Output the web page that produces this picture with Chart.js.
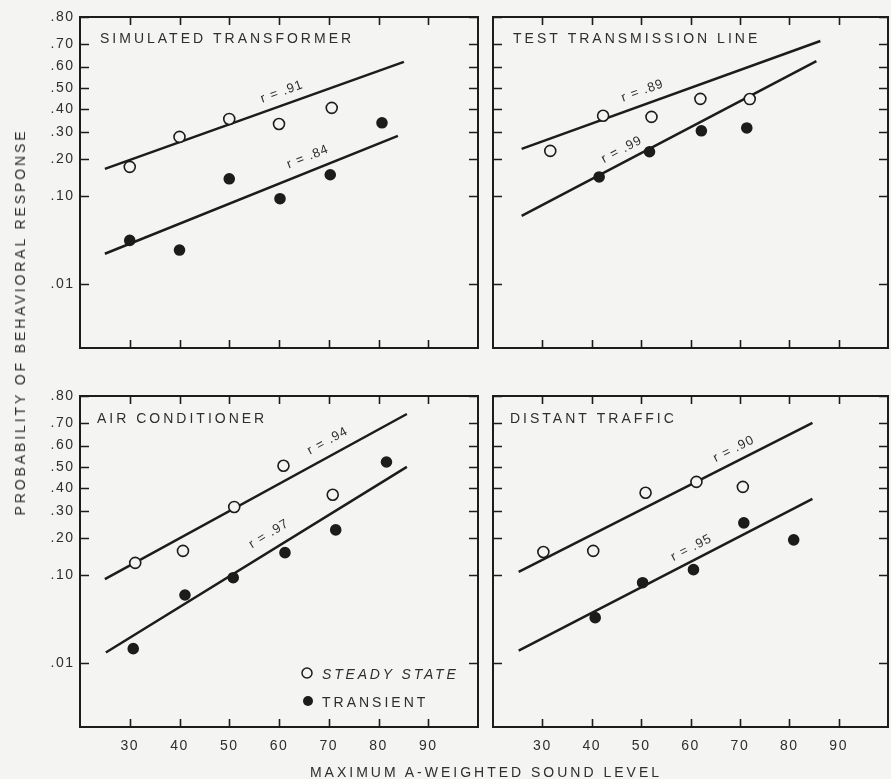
<!DOCTYPE html>
<html><head><meta charset="utf-8">
<script src="https://cdn.jsdelivr.net/npm/chart.js@4.4.1/dist/chart.umd.min.js"></script>
<style>
html,body{margin:0;padding:0;background:#f4f4f3;}
body{width:891px;height:779px;position:relative;overflow:hidden;font-family:"Liberation Sans",Arial,sans-serif;}
canvas{position:absolute;}
.ytitle{position:absolute;left:20px;top:322px;transform:translate(-50%,-50%) rotate(-90deg);white-space:nowrap;font-size:14px;letter-spacing:2.9px;color:#2e2e2e;}
.xtitle{position:absolute;left:486px;top:772px;transform:translate(-50%,-50%);white-space:nowrap;font-size:14px;letter-spacing:3px;color:#2e2e2e;}
</style></head>
<body>
<canvas id="c0" width="482" height="352" style="left:0;top:0"></canvas>
<canvas id="c1" width="409" height="352" style="left:482px;top:0"></canvas>
<canvas id="c2" width="482" height="400" style="left:0;top:379px"></canvas>
<canvas id="c3" width="409" height="400" style="left:482px;top:379px"></canvas>
<div class="ytitle">PROBABILITY OF BEHAVIORAL RESPONSE</div>
<div class="xtitle">MAXIMUM A-WEIGHTED SOUND LEVEL</div>
<script>
// ---------- DATA ----------
const panelTitles = ['SIMULATED TRANSFORMER', 'TEST TRANSMISSION LINE', 'AIR CONDITIONER', 'DISTANT TRAFFIC'];
const xTickValues = [30, 40, 50, 60, 70, 80, 90];
const yTickValues = [0.01, 0.10, 0.20, 0.30, 0.40, 0.50, 0.60, 0.70, 0.80];
const legendLabels = ['STEADY STATE', 'TRANSIENT'];
const rLabelText = [['r = .91', 'r = .84'], ['r = .89', 'r = .99'], ['r = .94', 'r = .97'], ['r = .90', 'r = .95']];

// Simulated transformer
const stSteadyX = [30, 40, 50, 60, 70.6];
const stSteadyP = [0.174, 0.280, 0.356, 0.334, 0.406];
const stTransientX = [30, 40, 50, 60.2, 70.3, 80.7];
const stTransientP = [0.035, 0.027, 0.140, 0.094, 0.151, 0.339];
const stSteadyFitX = [25.0, 85.1];
const stSteadyFitP = [0.168, 0.621];
const stTransientFitX = [25.0, 83.9];
const stTransientFitP = [0.0244, 0.284];

// Test transmission line
const ttSteadyX = [31.6, 42.3, 52.1, 62.0, 72.0];
const ttSteadyP = [0.227, 0.370, 0.365, 0.448, 0.447];
const ttTransientX = [41.5, 51.7, 62.2, 71.4];
const ttTransientP = [0.145, 0.224, 0.305, 0.317];
const ttSteadyFitX = [25.8, 86.3];
const ttSteadyFitP = [0.234, 0.711];
const ttTransientFitX = [25.8, 85.5];
const ttTransientFitP = [0.0643, 0.625];

// Air conditioner
const acSteadyX = [31.1, 40.7, 51.0, 60.9, 70.8];
const acSteadyP = [0.127, 0.159, 0.317, 0.505, 0.370];
const acTransientX = [30.7, 41.1, 50.8, 61.2, 71.4, 81.6];
const acTransientP = [0.0154, 0.064, 0.094, 0.154, 0.227, 0.523];
const acSteadyFitX = [25.0, 85.7];
const acSteadyFitP = [0.091, 0.735];
const acTransientFitX = [25.2, 85.7];
const acTransientFitP = [0.0137, 0.50];

// Distant traffic
const dtSteadyX = [30.2, 40.3, 50.9, 61.2, 70.6];
const dtSteadyP = [0.156, 0.159, 0.379, 0.429, 0.406];
const dtTransientX = [40.7, 50.3, 60.6, 70.8, 80.9];
const dtTransientP = [0.0366, 0.0844, 0.111, 0.253, 0.193];
const dtSteadyFitX = [25.2, 84.7];
const dtSteadyFitP = [0.106, 0.699];
const dtTransientFitX = [25.2, 84.7];
const dtTransientFitP = [0.0145, 0.352];

// ---------- STYLE / LAYOUT ----------
const INK = '#1c1c1c';
const TEXT = '#2e2e2e';
const BG = '#f4f4f3';
const FONT = '"Liberation Sans", Arial, sans-serif';

// label anchors (data coordinates) for the r annotations
const rAnchors = [
  [[60.6, 0.481], [65.8, 0.206]],
  [[50.3, 0.486], [46.1, 0.231]],
  [[69.8, 0.621], [58.0, 0.213]],
  [[68.8, 0.584], [60.2, 0.168]]
];

// ---------- probit scale ----------
function probit(p) {
  p = Math.min(Math.max(p, 1e-9), 1 - 1e-9);
  const a=[-3.969683028665376e+01,2.209460984245205e+02,-2.759285104469687e+02,1.383577518672690e+02,-3.066479806614716e+01,2.506628277459239e+00];
  const b=[-5.447609879822406e+01,1.615858368580409e+02,-1.556989798598866e+02,6.680131188771972e+01,-1.328068155288572e+01];
  const c=[-7.784894002430293e-03,-3.223964580411365e-01,-2.400758277161838e+00,-2.549671010315568e+00,4.374664141464968e+00,2.938163982698783e+00];
  const d=[7.784695709041462e-03,3.224671290700398e-01,2.445134137142996e+00,3.754408661907416e+00];
  const pl = 0.02425, ph = 1 - pl;
  let q, r;
  if (p < pl) { q = Math.sqrt(-2*Math.log(p)); return (((((c[0]*q+c[1])*q+c[2])*q+c[3])*q+c[4])*q+c[5])/((((d[0]*q+d[1])*q+d[2])*q+d[3])*q+1); }
  if (p <= ph) { q = p - 0.5; r = q*q; return (((((a[0]*r+a[1])*r+a[2])*r+a[3])*r+a[4])*r+a[5])*q/(((((b[0]*r+b[1])*r+b[2])*r+b[3])*r+b[4])*r+1); }
  q = Math.sqrt(-2*Math.log(1-p)); return -(((((c[0]*q+c[1])*q+c[2])*q+c[3])*q+c[4])*q+c[5])/((((d[0]*q+d[1])*q+d[2])*q+d[3])*q+1);
}
class ProbitScale extends Chart.Scale {
  determineDataLimits() { this.min = probit(this.options.min); this.max = probit(this.options.max); }
  buildTicks() { return yTickValues.map(v => ({ value: v })); }
  getLabelForValue(v) { return String(v); }
  getPixelForValue(v) { return this.getPixelForDecimal((probit(v) - this.min) / (this.max - this.min)); }
  getValueForPixel(px) { return this.getDecimalForPixel(px); }
  getBasePixel() { return this.bottom; }
}
ProbitScale.id = 'probit';
ProbitScale.defaults = {};
Chart.register(ProbitScale);

function pts(xs, ps) { return xs.map((x, i) => ({ x: x, y: ps[i] })); }
function fmtP(v) { return '.' + String(Math.round(v * 100)).padStart(2, '0'); }

const panels = [
  { title: panelTitles[0], sX: stSteadyX, sP: stSteadyP, tX: stTransientX, tP: stTransientP, sfX: stSteadyFitX, sfP: stSteadyFitP, tfX: stTransientFitX, tfP: stTransientFitP },
  { title: panelTitles[1], sX: ttSteadyX, sP: ttSteadyP, tX: ttTransientX, tP: ttTransientP, sfX: ttSteadyFitX, sfP: ttSteadyFitP, tfX: ttTransientFitX, tfP: ttTransientFitP },
  { title: panelTitles[2], sX: acSteadyX, sP: acSteadyP, tX: acTransientX, tP: acTransientP, sfX: acSteadyFitX, sfP: acSteadyFitP, tfX: acTransientFitX, tfP: acTransientFitP },
  { title: panelTitles[3], sX: dtSteadyX, sP: dtSteadyP, tX: dtTransientX, tP: dtTransientP, sfX: dtSteadyFitX, sfP: dtSteadyFitP, tfX: dtTransientFitX, tfP: dtTransientFitP }
];
// target plot-area rectangles inside each canvas
const layouts = [
  { yW: 80, xH: 4,  target: { left: 80, right: 478, top: 17, bottom: 348 }, showX: false, showY: true,  titleDx: 20, titleDy: 26, legend: false },
  { yW: 11, xH: 4,  target: { left: 11, right: 406, top: 17, bottom: 348 }, showX: false, showY: false, titleDx: 20, titleDy: 26, legend: false },
  { yW: 80, xH: 52, target: { left: 80, right: 478, top: 17, bottom: 348 }, showX: true,  showY: true,  titleDx: 17, titleDy: 27, legend: true },
  { yW: 11, xH: 52, target: { left: 11, right: 406, top: 17, bottom: 348 }, showX: true,  showY: false, titleDx: 17, titleDy: 27, legend: false }
];

function spacedText(ctx, text, x, y, spacing) {
  ctx.letterSpacing = spacing + 'px';
  ctx.fillText(text, x, y);
}

function framePlugin(idx) {
  const panel = panels[idx], lay = layouts[idx];
  return {
    id: 'frame' + idx,
    beforeDraw(chart) { chart.ctx.letterSpacing = '1.5px'; },
    afterDraw(chart) {
      const ctx = chart.ctx;
      const { left, right, top, bottom } = chart.chartArea;
      const xs = chart.scales.x, ys = chart.scales.y;
      ctx.save();
      ctx.letterSpacing = '0px';
      ctx.strokeStyle = INK;
      ctx.lineWidth = 2;
      ctx.strokeRect(left, top, right - left, bottom - top);
      ctx.lineWidth = 1.6;
      ctx.beginPath();
      xs.ticks.forEach(t => {
        const px = Math.round(xs.getPixelForValue(t.value)) + 0.5;
        ctx.moveTo(px, top); ctx.lineTo(px, top + 8);
        ctx.moveTo(px, bottom); ctx.lineTo(px, bottom - 8);
      });
      ys.ticks.forEach(t => {
        const py = Math.round(ys.getPixelForValue(t.value)) + 0.5;
        ctx.moveTo(left, py); ctx.lineTo(left + 9, py);
        ctx.moveTo(right, py); ctx.lineTo(right - 9, py);
      });
      ctx.stroke();

      // panel title
      ctx.fillStyle = TEXT;
      ctx.font = '14px ' + FONT;
      ctx.textAlign = 'left';
      ctx.textBaseline = 'alphabetic';
      spacedText(ctx, panel.title, left + lay.titleDx, top + lay.titleDy, 3);

      // r labels along the fitted lines
      const fits = [[panel.sfX, panel.sfP], [panel.tfX, panel.tfP]];
      fits.forEach((f, k) => {
        const x1 = xs.getPixelForValue(f[0][0]), y1 = ys.getPixelForValue(f[1][0]);
        const x2 = xs.getPixelForValue(f[0][1]), y2 = ys.getPixelForValue(f[1][1]);
        const ang = Math.atan2(y2 - y1, x2 - x1);
        const a = rAnchors[idx][k];
        const ax = xs.getPixelForValue(a[0]), ay = ys.getPixelForValue(a[1]);
        ctx.save();
        ctx.translate(ax, ay);
        ctx.rotate(ang);
        ctx.font = '13px ' + FONT;
        ctx.textAlign = 'center';
        ctx.textBaseline = 'middle';
        spacedText(ctx, rLabelText[idx][k], 0, 0, 1);
        ctx.restore();
      });

      // legend
      if (lay.legend) {
        const lx = left + 227, ly1 = top + 277, ly2 = top + 305;
        ctx.lineWidth = 1.5;
        ctx.fillStyle = BG;
        ctx.beginPath(); ctx.arc(lx, ly1, 5, 0, Math.PI * 2); ctx.fill(); ctx.stroke();
        ctx.fillStyle = INK;
        ctx.beginPath(); ctx.arc(lx + 1, ly2, 5, 0, Math.PI * 2); ctx.fill();
        ctx.fillStyle = TEXT;
        ctx.textAlign = 'left';
        ctx.textBaseline = 'alphabetic';
        ctx.font = 'italic 14px ' + FONT;
        spacedText(ctx, legendLabels[0], lx + 15, ly1 + 6, 2.8);
        ctx.font = '14px ' + FONT;
        spacedText(ctx, legendLabels[1], lx + 15, ly2 + 6, 3);
      }
      ctx.restore();
    }
  };
}

function zeroPad(s) { s.paddingLeft = 0; s.paddingRight = 0; s.paddingTop = 0; s.paddingBottom = 0; }

function makeChart(idx) {
  const panel = panels[idx], lay = layouts[idx];
  const canvas = document.getElementById('c' + idx);
  const pointBase = { showLine: false, pointRadius: 5.5, pointBorderWidth: 1.6, pointBorderColor: INK };
  const pad = { top: lay.target.top, right: canvas.width - lay.target.right, left: 0, bottom: 0 };
  const chart = new Chart(canvas, {
    type: 'scatter',
    data: {
      datasets: [
        Object.assign({ label: 'Steady state', data: pts(panel.sX, panel.sP), pointBackgroundColor: BG }, pointBase),
        Object.assign({ label: 'Transient', data: pts(panel.tX, panel.tP), pointBackgroundColor: INK }, pointBase, { pointRadius: 5 }),
        { label: 'Steady fit', data: pts(panel.sfX, panel.sfP), showLine: true, borderColor: INK, borderWidth: 2.5, pointRadius: 0 },
        { label: 'Transient fit', data: pts(panel.tfX, panel.tfP), showLine: true, borderColor: INK, borderWidth: 2.5, pointRadius: 0 }
      ]
    },
    options: {
      responsive: false,
      animation: false,
      events: [],
      layout: { autoPadding: false, padding: pad },
      plugins: { legend: { display: false }, tooltip: { enabled: false } },
      scales: {
        x: {
          type: 'linear', min: 20, max: 100,
          afterBuildTicks: s => { s.ticks = xTickValues.map(v => ({ value: v })); },
          afterFit: s => { s.height = canvas.height - lay.target.bottom; zeroPad(s); },
          grid: { display: false, drawTicks: false },
          border: { display: false },
          ticks: { display: lay.showX, autoSkip: false, maxRotation: 0, padding: 11, color: TEXT, font: { family: FONT, size: 14 } }
        },
        y: {
          type: 'probit', min: 0.001, max: 0.80,
          afterFit: s => { s.width = lay.target.left; zeroPad(s); },
          grid: { display: false, drawTicks: false },
          border: { display: false },
          ticks: { display: lay.showY, autoSkip: false, padding: 5.5, color: TEXT, font: { family: FONT, size: 14 }, callback: v => fmtP(v) }
        }
      }
    },
    plugins: [framePlugin(idx)]
  });
  // nudge layout padding so the plot area lands exactly on the target rectangle
  const ca = chart.chartArea;
  const dr = ca.right - lay.target.right, db = ca.bottom - lay.target.bottom, dt = ca.top - lay.target.top;
  if (Math.abs(dr) > 0.5 || Math.abs(db) > 0.5 || Math.abs(dt) > 0.5) {
    chart.options.layout.padding = { top: pad.top - dt, right: pad.right + dr, left: 0, bottom: Math.max(0, pad.bottom - db) };
    chart.update();
  }
  return chart;
}
[0, 1, 2, 3].forEach(makeChart);
</script>
</body></html>
